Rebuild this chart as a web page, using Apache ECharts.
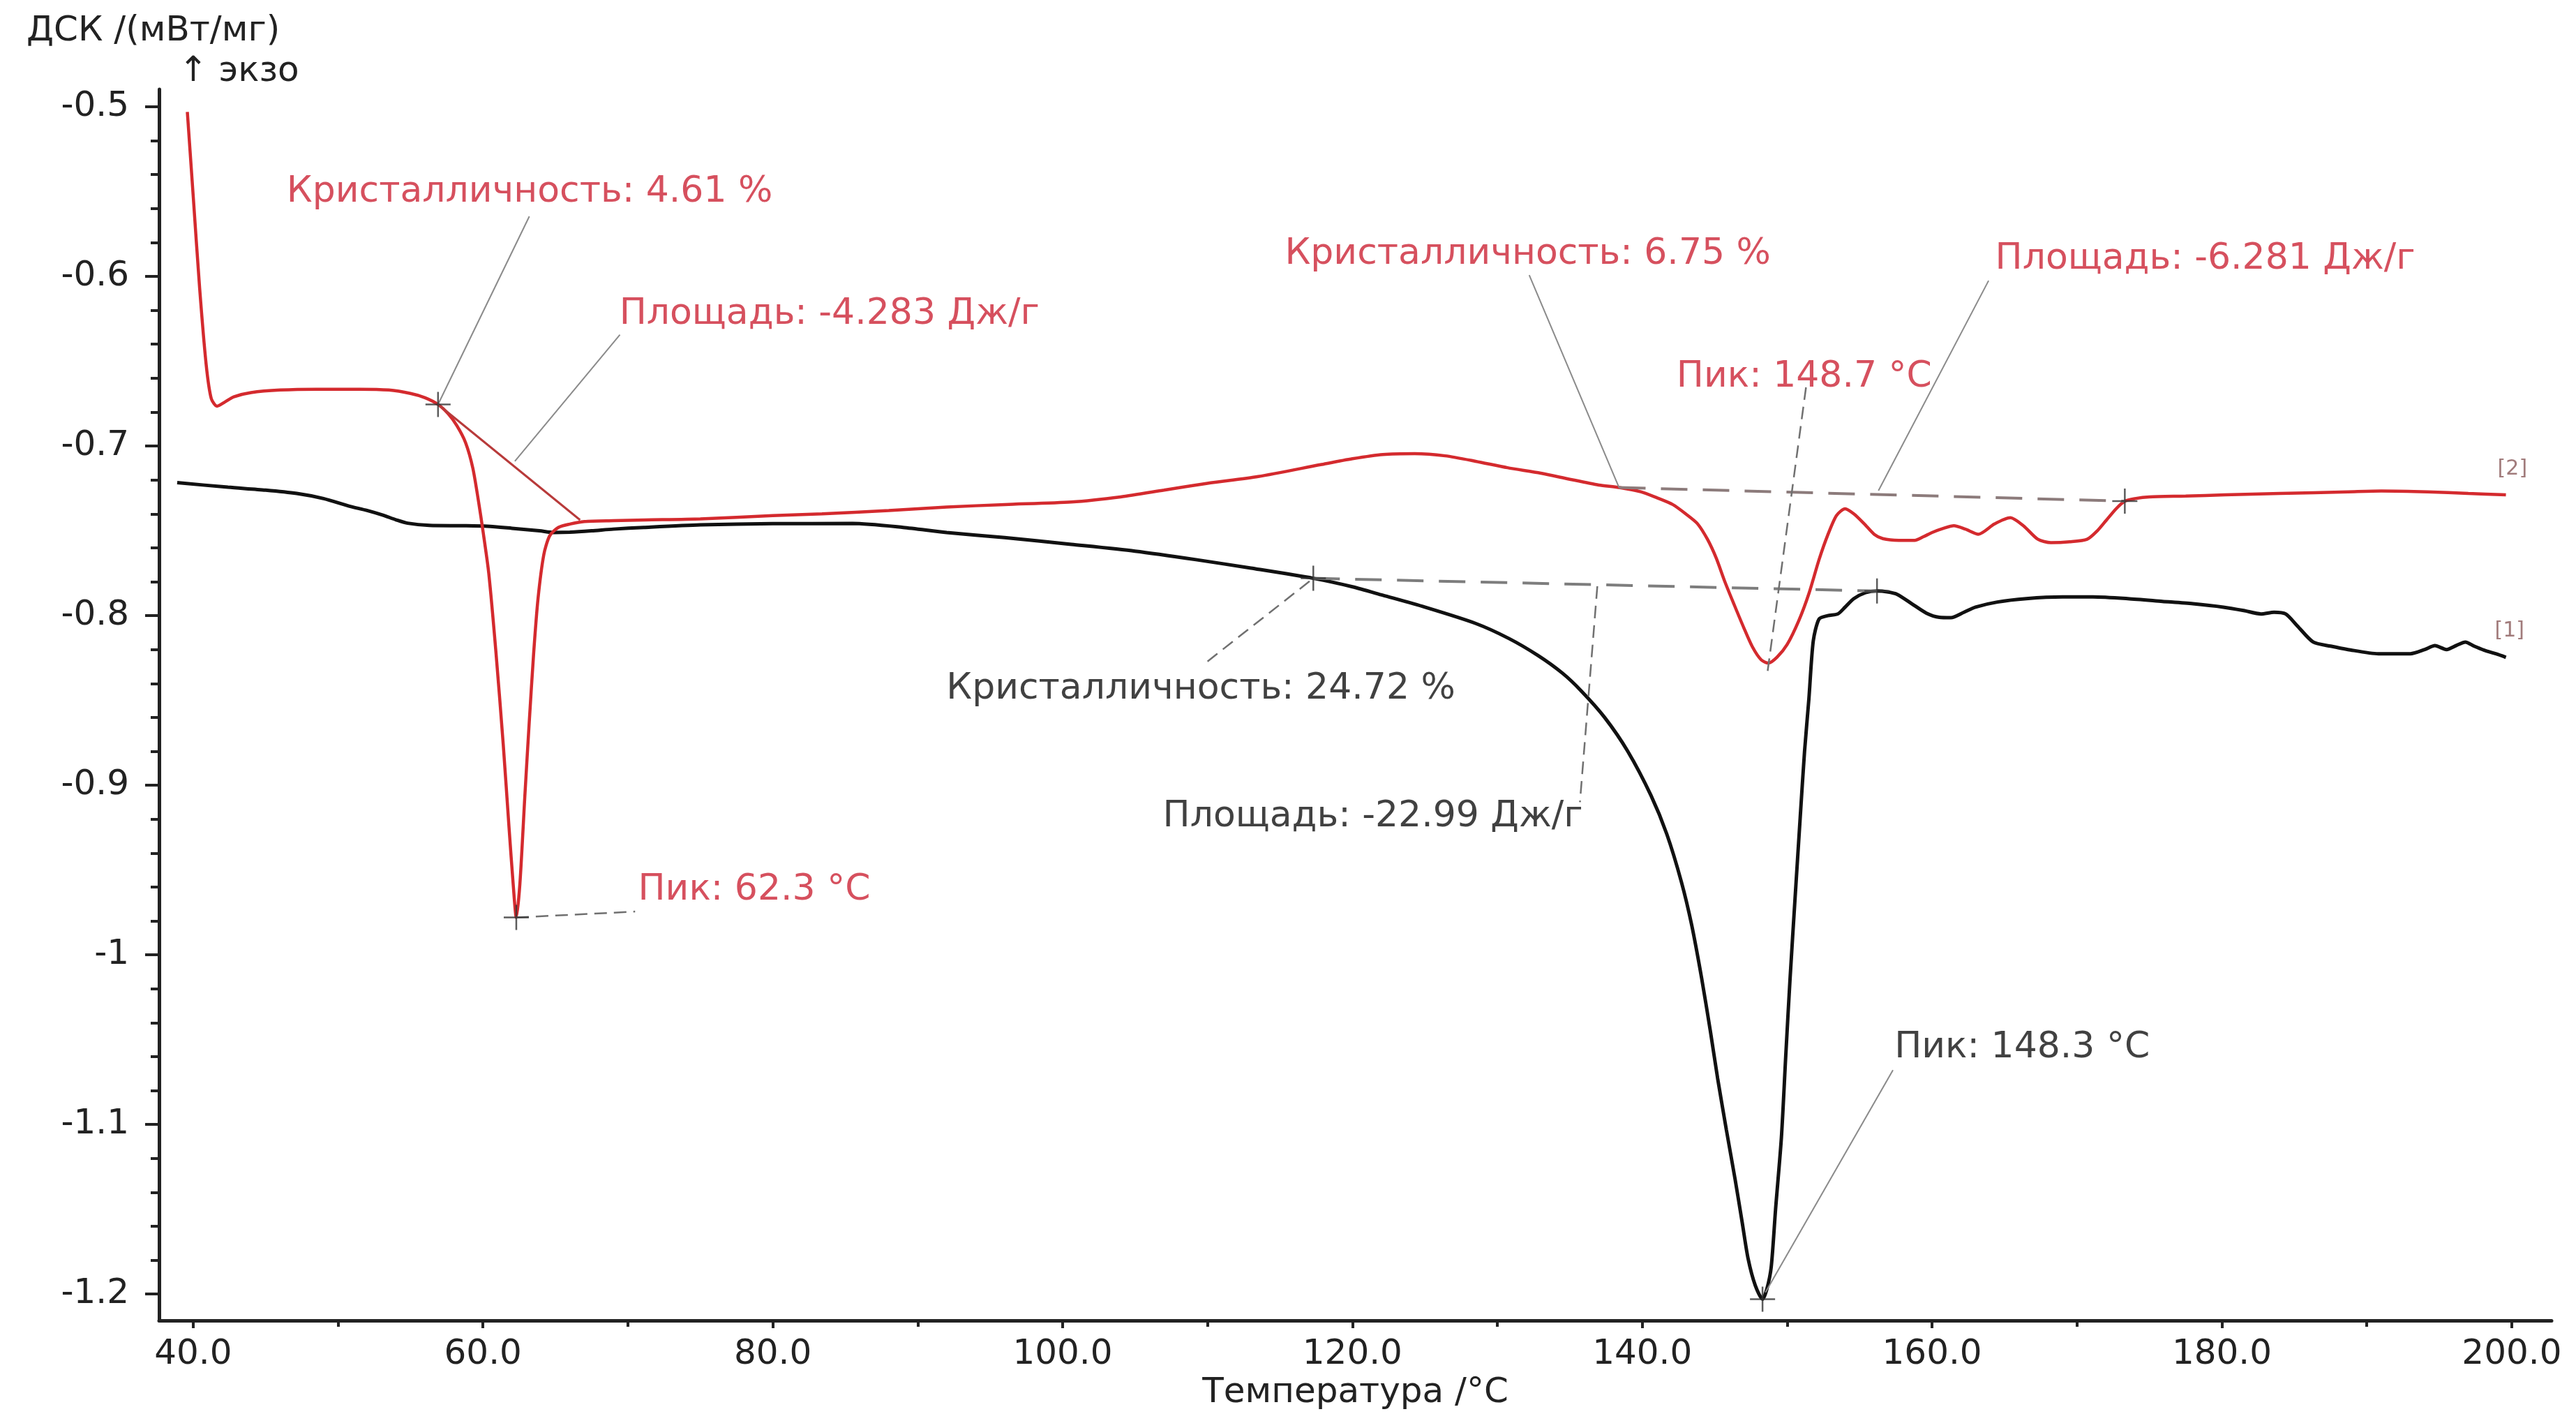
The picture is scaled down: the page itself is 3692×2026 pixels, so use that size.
<!DOCTYPE html>
<html><head><meta charset="utf-8">
<script src="https://cdn.jsdelivr.net/npm/echarts@6/dist/echarts.min.js"></script>
<style>html,body{margin:0;padding:0;background:#fff}#c{width:3692px;height:2026px}</style>
</head><body><div id="c"></div>
<script>
// ---- curve [1] (black) ----
const blackT = [38.9,42.4,45.0,47.15,49.0,50.75,52.0,53.1,54.0,54.8,56.3,58.5,60.3,62.0,63.9,64.9,66.0,67.5,69.0,71.1,75.0,80.0,85.5,89.0,92.0,96.0,100.6,105.0,109.2,113.0,117.3,120.0,122.1,125.0,128.5,130.8,132.8,134.5,135.8,137.4,139.0,140.6,141.7,142.7,143.4,144.1,144.7,145.2,145.8,146.4,146.9,147.3,147.8,148.3,148.6,148.9,149.2,149.6,149.9,150.2,150.55,150.9,151.2,151.5,151.8,152.2,152.8,153.5,154.0,154.6,155.4,156.2,156.9,157.6,158.6,159.6,160.5,161.3,162.2,163.0,164.5,166.5,169.0,171.1,173.5,175.9,178.0,180.1,181.5,182.7,183.6,184.4,185.2,186.3,187.5,188.7,190.8,193.0,194.0,194.7,195.5,196.2,196.8,197.4,198.1,198.9,199.6];
const blackV = [-0.7216,-0.7243,-0.726,-0.728,-0.731,-0.7354,-0.738,-0.7408,-0.7435,-0.7455,-0.7468,-0.747,-0.7473,-0.7485,-0.750,-0.751,-0.7508,-0.750,-0.749,-0.748,-0.7465,-0.7458,-0.7457,-0.748,-0.751,-0.754,-0.758,-0.762,-0.767,-0.772,-0.778,-0.783,-0.788,-0.795,-0.8046,-0.8135,-0.8235,-0.834,-0.8445,-0.860,-0.880,-0.906,-0.929,-0.957,-0.982,-1.0139,-1.045,-1.0728,-1.103,-1.132,-1.158,-1.179,-1.195,-1.203,-1.197,-1.184,-1.150,-1.108,-1.060,-1.014,-0.966,-0.919,-0.880,-0.849,-0.815,-0.802,-0.800,-0.799,-0.795,-0.790,-0.7865,-0.7855,-0.786,-0.7875,-0.793,-0.7985,-0.801,-0.8012,-0.798,-0.795,-0.792,-0.790,-0.789,-0.789,-0.790,-0.7916,-0.793,-0.795,-0.797,-0.799,-0.798,-0.799,-0.806,-0.8156,-0.818,-0.820,-0.8225,-0.8225,-0.820,-0.8177,-0.820,-0.8175,-0.8156,-0.818,-0.8204,-0.8225,-0.8246];

// ---- curve [2] (red) ----
const redT = [39.6,40.0,40.45,40.9,41.25,41.65,42.2,42.8,44.0,46.0,48.5,51.5,53.5,55.0,56.0,56.9,57.6,58.2,58.8,59.3,59.7,60.0,60.4,60.9,61.4,61.8,62.1,62.3,62.55,62.9,63.2,63.5,63.8,64.2,64.6,65.2,66.0,67.0,69.0,71.2,75.0,80.0,83.4,88.0,92.0,96.0,100.6,104.0,107.0,110.0,113.5,117.8,120.0,122.1,124.3,126.4,128.5,130.7,133.0,135.0,137.0,138.4,139.9,141.0,142.1,143.0,143.8,144.5,145.1,145.7,146.35,147.0,147.6,148.2,148.7,149.3,150.0,150.8,151.5,152.2,152.8,153.4,154.0,154.6,155.3,156.0,156.6,157.7,158.8,159.4,160.0,160.8,161.5,162.3,163.2,164.3,165.4,166.3,167.3,168.2,169.5,170.7,171.4,172.0,172.7,173.3,174.0,175.0,177.5,180.2,184.0,188.7,191.0,194.2,197.0,199.6];
const redV = [-0.503,-0.552,-0.607,-0.652,-0.672,-0.6765,-0.674,-0.671,-0.6685,-0.667,-0.6665,-0.6665,-0.667,-0.669,-0.6715,-0.6755,-0.681,-0.688,-0.698,-0.713,-0.733,-0.750,-0.775,-0.822,-0.876,-0.925,-0.960,-0.978,-0.958,-0.905,-0.862,-0.822,-0.790,-0.764,-0.753,-0.748,-0.746,-0.7445,-0.744,-0.7436,-0.743,-0.741,-0.740,-0.738,-0.736,-0.7345,-0.733,-0.730,-0.726,-0.722,-0.718,-0.711,-0.7075,-0.705,-0.7045,-0.7058,-0.709,-0.7128,-0.716,-0.7196,-0.723,-0.7245,-0.727,-0.7305,-0.7345,-0.740,-0.7457,-0.755,-0.766,-0.780,-0.7937,-0.807,-0.8184,-0.826,-0.828,-0.8245,-0.817,-0.803,-0.787,-0.767,-0.7525,-0.741,-0.737,-0.740,-0.7457,-0.752,-0.7546,-0.7556,-0.7556,-0.7535,-0.751,-0.7485,-0.747,-0.749,-0.752,-0.746,-0.7423,-0.747,-0.755,-0.757,-0.7565,-0.755,-0.750,-0.744,-0.737,-0.7325,-0.731,-0.730,-0.7295,-0.7288,-0.728,-0.727,-0.7265,-0.727,-0.728,-0.7288];

// ---- axes ----
const xTicks = [40,60,80,100,120,140,160,180,200];
const xMinorTicks = [50,70,90,110,130,150,170,190];
const yTicks = [-0.5,-0.6,-0.7,-0.8,-0.9,-1,-1.1,-1.2];
const yMinorTicks = [-0.52,-0.54,-0.56,-0.58,-0.62,-0.64,-0.66,-0.68,-0.72,-0.74,-0.76,-0.78,-0.82,-0.84,-0.86,-0.88,-0.92,-0.94,-0.96,-0.98,-1.02,-1.04,-1.06,-1.08,-1.12,-1.14,-1.16,-1.18];

// ---- analysis annotations ----
const crossPts = [[56.9,-0.6755],[173.3,-0.7325],[117.3,-0.778],[156.2,-0.7855],[62.3,-0.978],[148.3,-1.203]];
const redBaseSolid = [[56.9,-0.6755],[66.7,-0.7436]];
const redBaseDashed = [[138.4,-0.7245],[173.3,-0.7325]];
const blackBaseDashed = [[117.3,-0.778],[156.2,-0.7855]];
const leaderSolid = [
  [[63.2,-0.5646],[56.9,-0.6755]],
  [[69.45,-0.6344],[62.2,-0.709]],
  [[132.2,-0.5992],[138.4,-0.7245]],
  [[163.9,-0.6025],[156.3,-0.7263]],
  [[157.3,-1.068],[148.5,-1.199]]
];
const leaderDashed = [
  [[62.3,-0.978],[70.5,-0.9745]],
  [[151.3,-0.6654],[148.6,-0.836]],
  [[110.0,-0.827],[117.3,-0.778]],
  [[136.9,-0.7827],[135.7,-0.91]]
];
const redLabels = ['Кристалличность: 4.61 %','Площадь: -4.283 Дж/г','Пик: 62.3 °C','Кристалличность: 6.75 %','Площадь: -6.281 Дж/г','Пик: 148.7 °C'];
const redLabelPos = [[46.43,-0.5502],[69.39,-0.6226],[70.68,-0.9621],[115.31,-0.5872],[164.33,-0.5897],[142.34,-0.6593]];
const blackLabels = ['Кристалличность: 24.72 %','Площадь: -22.99 Дж/г','Пик: 148.3 °C'];
const blackLabelPos = [[91.95,-0.8432],[106.89,-0.9185],[157.38,-1.0547]];
const curveTags = ['[2]','[1]'];
const curveTagPos = [[199.0,-0.7136],[198.8,-0.809]];

const FONT = '"DejaVu Sans", sans-serif';
const RED = '#d42a2e', RED_TXT = '#cc2436', BLK = '#111111', GRAY = '#8a8a8a';
const pairs = (t, v) => t.map((x, i) => [x, v[i]]);

const labelSeries = (pos, texts, color, size) => ({
  type: 'scatter', symbolSize: 1, itemStyle: {color: 'rgba(0,0,0,0)'}, silent: true, z: 10,
  data: pos.map((p, i) => ({value: p, name: texts[i]})),
  label: {show: true, position: 'right', distance: 0, formatter: p => p.name,
    color: color, fontSize: size, fontFamily: FONT}
});

const chart = echarts.init(document.getElementById('c'), null, {renderer: 'canvas'});
chart.setOption({
  animation: false,
  backgroundColor: '#fff',
  grid: {left: 228, right: 35, top: 128, bottom: 134},
  graphic: [
    {type: 'text', x: 38, y: 45, style: {text: 'ДСК /(мВт/мг)', fill: '#222', fontSize: 50, fontFamily: FONT, align: 'left', verticalAlign: 'middle'}},
    {type: 'text', x: 256, y: 103, style: {text: '↑ экзо', fill: '#222', fontSize: 50, fontFamily: FONT, align: 'left', verticalAlign: 'middle'}}
  ],
  xAxis: [
    {type: 'value', min: 37.65, max: 202.75, position: 'bottom',
     name: 'Температура /°C', nameLocation: 'middle', nameGap: 78,
     nameTextStyle: {fontSize: 50, color: '#222', fontFamily: FONT},
     axisLine: {show: true, lineStyle: {color: '#222', width: 5}},
     axisTick: {show: true, customValues: xTicks, length: 11, lineStyle: {color: '#222', width: 4}},
     axisLabel: {customValues: xTicks, formatter: v => v.toFixed(1), fontSize: 50, color: '#222', margin: 24, fontFamily: FONT},
     splitLine: {show: false}},
    {type: 'value', min: 37.65, max: 202.75, position: 'bottom',
     axisLine: {show: false},
     axisTick: {show: true, customValues: xMinorTicks, length: 9, lineStyle: {color: '#222', width: 4}},
     axisLabel: {show: false}, splitLine: {show: false}}
  ],
  yAxis: [
    {type: 'value', min: -1.2156, max: -0.4897, position: 'left',
     axisLine: {show: true, lineStyle: {color: '#222', width: 5}},
     axisTick: {show: true, customValues: yTicks, length: 20, lineStyle: {color: '#222', width: 4}},
     axisLabel: {customValues: yTicks, formatter: v => String(v), fontSize: 50, color: '#222', margin: 43, fontFamily: FONT},
     splitLine: {show: false}},
    {type: 'value', min: -1.2156, max: -0.4897, position: 'left',
     axisLine: {show: false},
     axisTick: {show: true, customValues: yMinorTicks, length: 12, lineStyle: {color: '#222', width: 4}},
     axisLabel: {show: false}, splitLine: {show: false}}
  ],
  series: [
    {type: 'line', name: '[1]', data: pairs(blackT, blackV), showSymbol: false, smooth: 0.25,
     lineStyle: {color: BLK, width: 5}, z: 3},
    {type: 'line', name: '[2]', data: pairs(redT, redV), showSymbol: false, smooth: 0.25,
     lineStyle: {color: RED, width: 4.5}, z: 4},
    {type: 'line', data: redBaseSolid, showSymbol: false, lineStyle: {color: '#b83a3a', width: 3}, z: 5},
    {type: 'line', data: redBaseDashed, showSymbol: false, lineStyle: {color: '#8c7b7b', width: 4, type: [38, 22]}, z: 5},
    {type: 'line', data: blackBaseDashed, showSymbol: false, lineStyle: {color: '#7d7d7d', width: 4, type: [38, 22]}, z: 5},
    {type: 'lines', coordinateSystem: 'cartesian2d', silent: true, z: 6,
     data: leaderSolid.map(c => ({coords: c})), lineStyle: {color: GRAY, width: 2, opacity: 1}},
    {type: 'lines', coordinateSystem: 'cartesian2d', silent: true, z: 6,
     data: leaderDashed.map(c => ({coords: c})), lineStyle: {color: '#707070', width: 2.5, type: [18, 10], opacity: 1}},
    {type: 'scatter', data: crossPts, symbol: 'path://M50 0 L50 100 M0 50 L100 50', symbolSize: 36,
     itemStyle: {color: 'none', borderColor: '#333', borderWidth: 2.5}, silent: true, z: 8},
    labelSeries(redLabelPos, redLabels, RED_TXT, 52),
    labelSeries(blackLabelPos, blackLabels, '#111', 52),
    labelSeries(curveTagPos, curveTags, '#8a5a5a', 30)
  ]
});
</script></body></html>
